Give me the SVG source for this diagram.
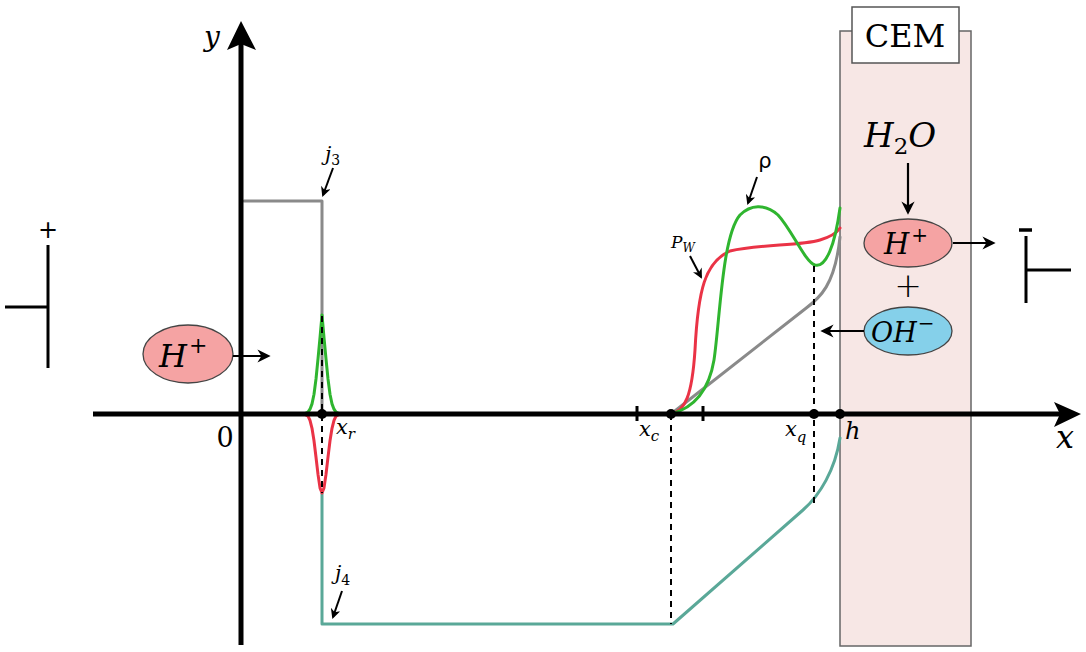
<svg xmlns="http://www.w3.org/2000/svg" width="1086" height="652" viewBox="0 0 1086 652">
<style>
.ax{stroke:#000;stroke-width:5;fill:none}
.ah{fill:#000}
.f{font-family:"DejaVu Serif","Liberation Serif","Times New Roman",serif}
.m{font-style:italic;fill:#000}
.r{fill:#000}
.dash{stroke:#000;stroke-width:2;stroke-dasharray:6,5;fill:none}
.arr{stroke:#000;stroke-width:2.2;fill:none;marker-end:url(#ah)}
.sarr{stroke:#000;stroke-width:2;fill:none;marker-end:url(#ahs)}
.el{stroke:#000;stroke-width:3;fill:none}
.dot{fill:#000}
.curve{fill:none;stroke-width:3;stroke-linejoin:round;stroke-linecap:round}
</style>
<defs>
<marker id="ah" viewBox="0 0 10 10" refX="8" refY="5" markerWidth="7" markerHeight="6" markerUnits="strokeWidth" orient="auto"><path d="M0,0 L10,5 L0,10 L3,5 z" fill="#000"/></marker>
<marker id="ahs" viewBox="0 0 10 10" refX="8" refY="5" markerWidth="5.5" markerHeight="5" markerUnits="strokeWidth" orient="auto"><path d="M0,0 L10,5 L0,10 L3,5 z" fill="#000"/></marker>
</defs>
<rect width="1086" height="652" fill="#fff"/>

<g id="cem">
<rect x="840" y="31" width="131" height="615" fill="#f7e7e5" stroke="#666" stroke-width="1.5"/>
<rect x="852" y="7" width="107" height="56" fill="#fff" stroke="#555" stroke-width="1.5"/>
<text class="r f" x="905" y="47" font-size="32" text-anchor="middle">CEM</text>
</g>

<g id="curves">
<path class="curve" stroke="#8a8a8a" stroke-width="2.5" d="M244,201 L322,201 L322,414"/>
<path class="curve" stroke="#8a8a8a" stroke-width="2.5" d="M671,414 L805,309 C820,298 835,285 840,237"/>
<path class="curve" stroke="#5aa898" stroke-width="2.5" d="M322,493 L322,624 L673,624 L803,510 C820,495 835,470 840,438"/>
<polyline class="curve" stroke="#2fb52f" points="302,414 305,413.7 308,412.2 310,409.2 312,403.9 314,394.3 316,379 318,358.9 320,337.7 322,315 324,337.7 326,358.9 328,379 330,394.3 332,403.9 334,409.2 336,412.2 339,413.7 342,414"/>
<polyline class="curve" stroke="#ea3346" points="302,414 305,414.5 308,416.1 310,420.4 312,428.3 314,440.8 316,457.2 318,474.4 320,487.9 322,493 324,487.9 326,474.4 328,457.2 330,440.8 332,428.3 334,420.4 336,416.1 339,414.5 342,414"/>
<path class="curve" stroke="#ea3346" d="M342,414 L671,414"/>
<path class="curve" stroke="#ea3346" d="M671,414 C685,411 692,396 695,350 C698,290 705,262 730,251 C760,244 800,246 820,240 C830,237 836,234 840,228"/>
<path class="curve" stroke="#2fb52f" d="M671,414 C690,409 708,396 714,360 C720,320 722,236 740,215 C750,205 765,203 778,215 C792,230 805,262 815,265 C826,268 835,245 840,208"/>
</g>

<g id="guides">
<line class="dash" x1="322" y1="316" x2="322" y2="493"/>
<line class="dash" x1="671" y1="414" x2="671" y2="624"/>
<line class="dash" x1="814" y1="266" x2="814" y2="503"/>
</g>

<g id="axes">
<line class="ax" x1="93" y1="414" x2="1060" y2="414"/>
<polygon class="ah" points="1081,414 1054,402 1060,414 1054,427"/>
<line class="ax" x1="241" y1="645" x2="241" y2="42"/>
<polygon class="ah" points="241,21 256,50 241,44 227,50"/>
<line stroke="#000" stroke-width="3" x1="637" y1="406" x2="637" y2="421"/>
<line stroke="#000" stroke-width="3" x1="703" y1="406" x2="703" y2="421"/>
<circle class="dot" cx="322" cy="414" r="5"/>
<circle class="dot" cx="671" cy="414" r="5"/>
<circle class="dot" cx="814" cy="414" r="5"/>
<circle class="dot" cx="840" cy="414" r="5"/>
</g>

<g id="labels" class="f">
<text class="m" x="204" y="46" font-size="28">y</text>
<text class="r" x="225" y="447" font-size="27" text-anchor="middle">0</text>
<text class="m" x="1056" y="448" font-size="32">x</text>
<text class="m" x="336" y="434" font-size="21">x<tspan font-size="15" dy="5">r</tspan></text>
<text class="m" x="639" y="436" font-size="21">x<tspan font-size="15" dy="5">c</tspan></text>
<text class="m" x="785" y="436" font-size="21">x<tspan font-size="15" dy="6">q</tspan></text>
<text class="m" x="845" y="439" font-size="24">h</text>
<text class="m" x="325" y="161" font-size="20">j<tspan font-style="normal" font-size="14" dy="4">3</tspan></text>
<text class="m" x="335" y="580" font-size="20">j<tspan font-style="normal" font-size="14" dy="5">4</tspan></text>
<text class="m" x="671" y="248" font-size="17">P<tspan font-size="12" dy="4">W</tspan></text>
<text x="765" y="168" font-size="21" text-anchor="middle" font-family="DejaVu Sans, sans-serif" fill="#000">ρ</text>
</g>

<g id="left-electrode">
<line class="el" x1="48" y1="245" x2="48" y2="368"/>
<line class="el" x1="5" y1="307" x2="48" y2="307"/>
<text x="48" y="238" font-size="24" text-anchor="middle" font-family="DejaVu Sans, sans-serif" fill="#000">+</text>
</g>

<g id="right-electrode">
<line class="el" x1="1026" y1="236" x2="1026" y2="303"/>
<line class="el" x1="1026" y1="270" x2="1071" y2="270"/>
<line stroke="#000" stroke-width="3.5" x1="1019" y1="230" x2="1032" y2="230"/>
</g>

<g id="h-plus-left" class="f">
<ellipse cx="188" cy="354" rx="45" ry="29" fill="#f5a3a3" stroke="#444" stroke-width="1.3"/>
<text class="m" x="159" y="367" font-size="32">H<tspan font-style="normal" font-size="22" dx="2" dy="-14">+</tspan></text>
</g>

<g id="h2o" class="f">
<text class="m" x="864" y="147" font-size="34">H<tspan font-style="normal" font-size="23" dy="7">2</tspan><tspan dy="-7">O</tspan></text>
</g>

<g id="h-plus-right" class="f">
<ellipse cx="908" cy="243" rx="44" ry="24" fill="#f5a3a3" stroke="#444" stroke-width="1.3"/>
<text class="m" x="884" y="254" font-size="29">H<tspan font-style="normal" font-size="20" dx="2" dy="-12">+</tspan></text>
</g>

<text x="908" y="297" font-size="33" text-anchor="middle" font-family="DejaVu Sans, sans-serif" font-weight="300" fill="#000">+</text>

<g id="oh-minus" class="f">
<ellipse cx="908" cy="331" rx="44" ry="24" fill="#85d0ea" stroke="#444" stroke-width="1.3"/>
<text class="m" x="871" y="342" font-size="27">OH<tspan font-style="normal" font-size="20" dx="1" dy="-12">−</tspan></text>
</g>

<g id="connectors">
<line class="sarr" x1="333" y1="168" x2="323" y2="195"/>
<line class="sarr" x1="342" y1="591" x2="333" y2="617"/>
<line class="sarr" x1="757" y1="177" x2="748" y2="203"/>
<line class="sarr" x1="690" y1="256" x2="701" y2="277"/>
<line class="arr" x1="233" y1="356" x2="268" y2="356"/>
<line class="arr" x1="908" y1="163" x2="908" y2="212"/>
<line class="arr" x1="953" y1="243" x2="993" y2="243"/>
<line class="arr" x1="864" y1="331" x2="823" y2="331"/>
</g>
</svg>
